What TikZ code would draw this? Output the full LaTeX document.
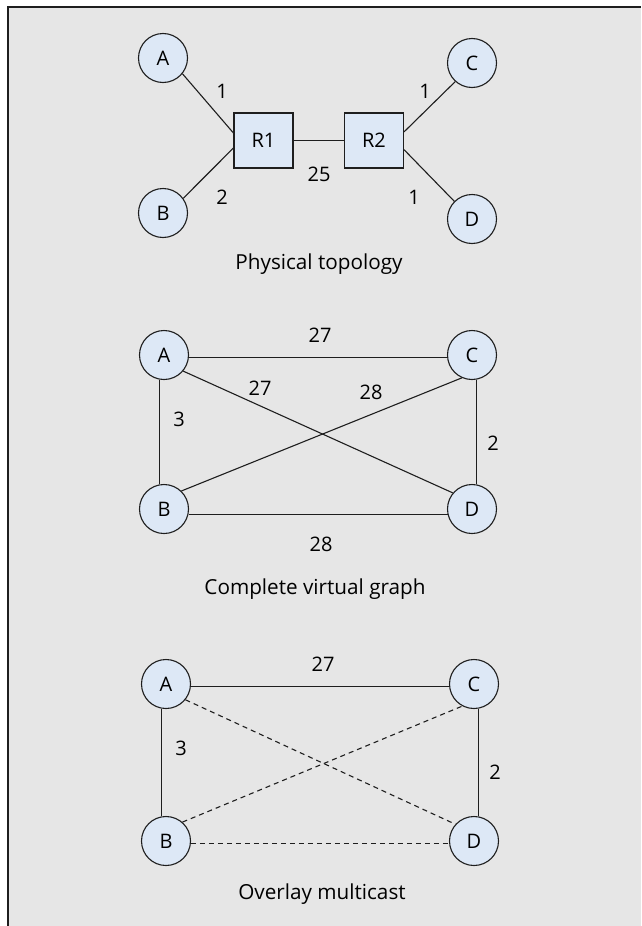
\documentclass[tikz,border=0pt]{standalone}
\usepackage{fontspec}
\setmainfont{Open Sans}
\usepackage{tikz}
\usetikzlibrary{positioning}
\definecolor{panelgray}{HTML}{E6E6E6}
\definecolor{nodeblue}{HTML}{DDE8F6}
\definecolor{inkline}{HTML}{1E1E1E}

\begin{document}
\begin{tikzpicture}
  [
  x=1pt,y=-1pt,
  line width=1.1pt,
  site/.style={circle,draw=inkline,fill=nodeblue,minimum size=49pt,inner sep=0pt,font=\fontsize{20}{24}\selectfont},
  router/.style={rectangle,draw=inkline,fill=nodeblue,minimum width=59pt,minimum height=55pt,inner sep=0pt,font=\fontsize{20}{24}\selectfont},
  cost/.style={inner sep=0pt,font=\fontsize{20}{24}\selectfont},
  caption/.style={inner sep=0pt,anchor=base,font=\fontsize{20.7}{24}\selectfont},
  link/.style={draw=inkline},
  overlay link/.style={draw=inkline,dashed,dash pattern=on 5pt off 4pt}
  ]

  \useasboundingbox (0,0) rectangle (641,926);
  \fill[panelgray] (8,7) rectangle (641,926);
  \draw[inkline] (8,926) -- (8,7) -- (641,7);

  % physical topology
  \node (a1) [site] at (163,58)  {A};
  \node (b1) [site] at (163,213) {B};
  \node (c1) [site] at (472,63)  {C};
  \node (d1) [site] at (472,219) {D};
  \node (r1) [router] at (263.5,140.5) {R1};
  \node (r2) [router] at (374,140.5)   {R2};
  \draw [link] (a1.-39) -- (r1.166);
  \draw [link] (b1.36)  -- (r1.194);
  \draw [link] (c1.228) -- (r2.16);
  \draw [link] (d1.135) -- (r2.-17);
  \draw [link] (r1) -- (r2);
  \node (w1) [cost] at (222,91)  {1};
  \node (w2) [cost] at (222,197) {2};
  \node (w3) [cost] at (425,91)  {1};
  \node (w4) [cost] at (414,197) {1};
  \node (w5) [cost] at (319,174) {25};
  \node (cap1) [caption] at (319,269) {Physical topology};

  % complete virtual graph
  \node (a2) [site] at (164,355) {A};
  \node (b2) [site] at (164,509) {B};
  \node (c2) [site] at (472,355) {C};
  \node (d2) [site] at (472,509) {D};
  \draw [link] (a2.-5)  -- (c2.185);
  \draw [link] (a2.260) -- (b2.100);
  \draw [link] (c2.280) -- (d2.80);
  \draw [link] (b2.-12) -- (d2.192);
  \draw [link] (a2.-40) -- (d2.140);
  \draw [link] (b2.46)  -- (c2.246);
  \node (v1) [cost] at (320,335) {27};
  \node (v2) [cost] at (260,388) {27};
  \node (v3) [cost] at (371,392) {28};
  \node (v4) [cost] at (179,419) {3};
  \node (v5) [cost] at (493,443) {2};
  \node (v6) [cost] at (321,544) {28};
  \node (cap2) [caption] at (315,594) {Complete virtual graph};

  % overlay multicast
  \node (a3) [site] at (166,684) {A};
  \node (b3) [site] at (166,841) {B};
  \node (c3) [site] at (474,684) {C};
  \node (d3) [site] at (474,841) {D};
  \draw [link] (a3.-5)  -- (c3.185);
  \draw [link] (a3.260) -- (b3.100);
  \draw [link] (c3.280) -- (d3.80);
  \draw [overlay link] (b3.-5)  -- (d3.185);
  \draw [overlay link] (a3.-39) -- (d3.138);
  \draw [overlay link] (b3.49)  -- (c3.242);
  \node (m1) [cost] at (323,664) {27};
  \node (m2) [cost] at (181,748) {3};
  \node (m3) [cost] at (495,772) {2};
  \node (cap3) [caption] at (322,899) {Overlay multicast};
\end{tikzpicture}
\end{document}
